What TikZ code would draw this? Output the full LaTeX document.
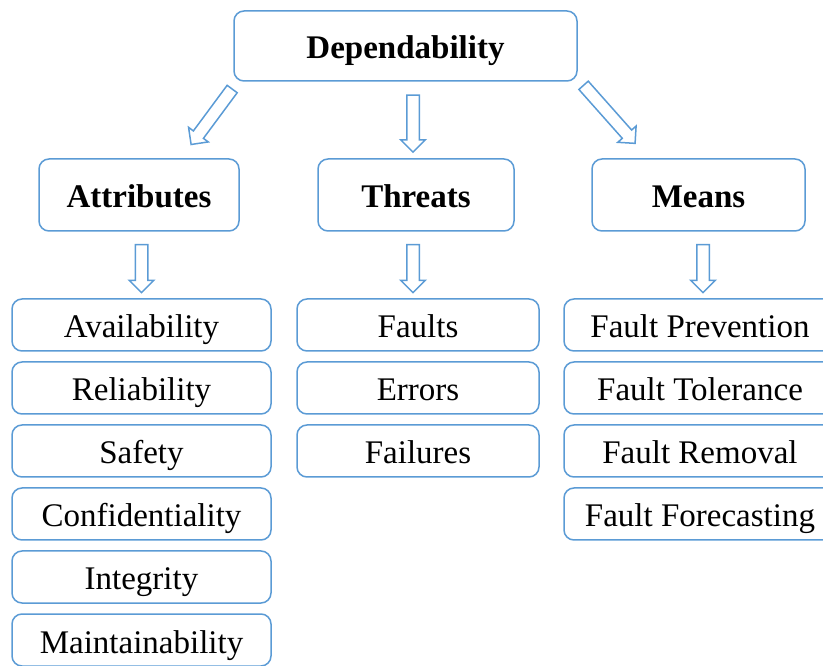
\documentclass[tikz,border=0pt]{standalone}
\usepackage{fontspec}
\setmainfont{Liberation Serif}
\usetikzlibrary{shapes.arrows}
\definecolor{azul}{RGB}{91,155,213}
\begin{document}
\begin{tikzpicture}[x=1pt,y=1pt,
  caixa/.style={draw=azul,line width=1.5pt,rounded corners=10pt,inner sep=0pt,
    text height=30pt,text depth=4pt,font=\fontsize{33}{36}\selectfont,text=black},
  topo/.style={caixa,font=\fontsize{33}{36}\selectfont\bfseries},
  seta/.style={draw=azul,line width=1.5pt,single arrow,single arrow head extend=6pt,
    inner xsep=0pt,inner ysep=5.5pt}]
%moldura do desenho
 \clip (0,0) rectangle (823,665);
 \useasboundingbox (0,0) rectangle (823,665);
%caixa principal
 \node[topo,minimum width=343pt,minimum height=70pt] (dep) at (405.5,619) {Dependability};
%segundo nível
 \node[topo,minimum width=200pt,minimum height=72pt] (attr) at (139,470) {Attributes};
 \node[topo,minimum width=196pt,minimum height=72pt] (threats) at (416,470) {Threats};
 \node[topo,minimum width=213pt,minimum height=72pt] (means) at (698.5,470) {Means};
%setas largas
 \node[seta,minimum height=69pt,rotate=233.5] (s1) at (213.5,550.75) {};
 \node[seta,minimum height=57pt,rotate=-90] (s2) at (413,544.5) {};
 \node[seta,minimum height=77.6pt,rotate=-48.4] (s3) at (607.25,553) {};
 \node[seta,minimum height=48pt,rotate=-90] (s4) at (141.5,399.5) {};
 \node[seta,minimum height=48pt,rotate=-90] (s5) at (413,399.5) {};
 \node[seta,minimum height=48pt,rotate=-90] (s6) at (703,399.5) {};
%atributos
 \foreach \t [count=\i] in {Availability,Reliability,Safety,Confidentiality,Integrity,Maintainability}
  \node[caixa,minimum width=259pt,minimum height=52pt] (a\i) at (141.5,403-63*\i) {\t};
%ameaças
 \foreach \t [count=\i] in {Faults,Errors,Failures}
  \node[caixa,minimum width=242pt,minimum height=52pt] (t\i) at (418,403-63*\i) {\t};
%meios
 \foreach \t [count=\i] in {Fault Prevention,Fault Tolerance,Fault Removal,Fault Forecasting}
  \node[caixa,minimum width=272pt,minimum height=52pt] (m\i) at (700,403-63*\i) {\t};
\end{tikzpicture}
\end{document}
